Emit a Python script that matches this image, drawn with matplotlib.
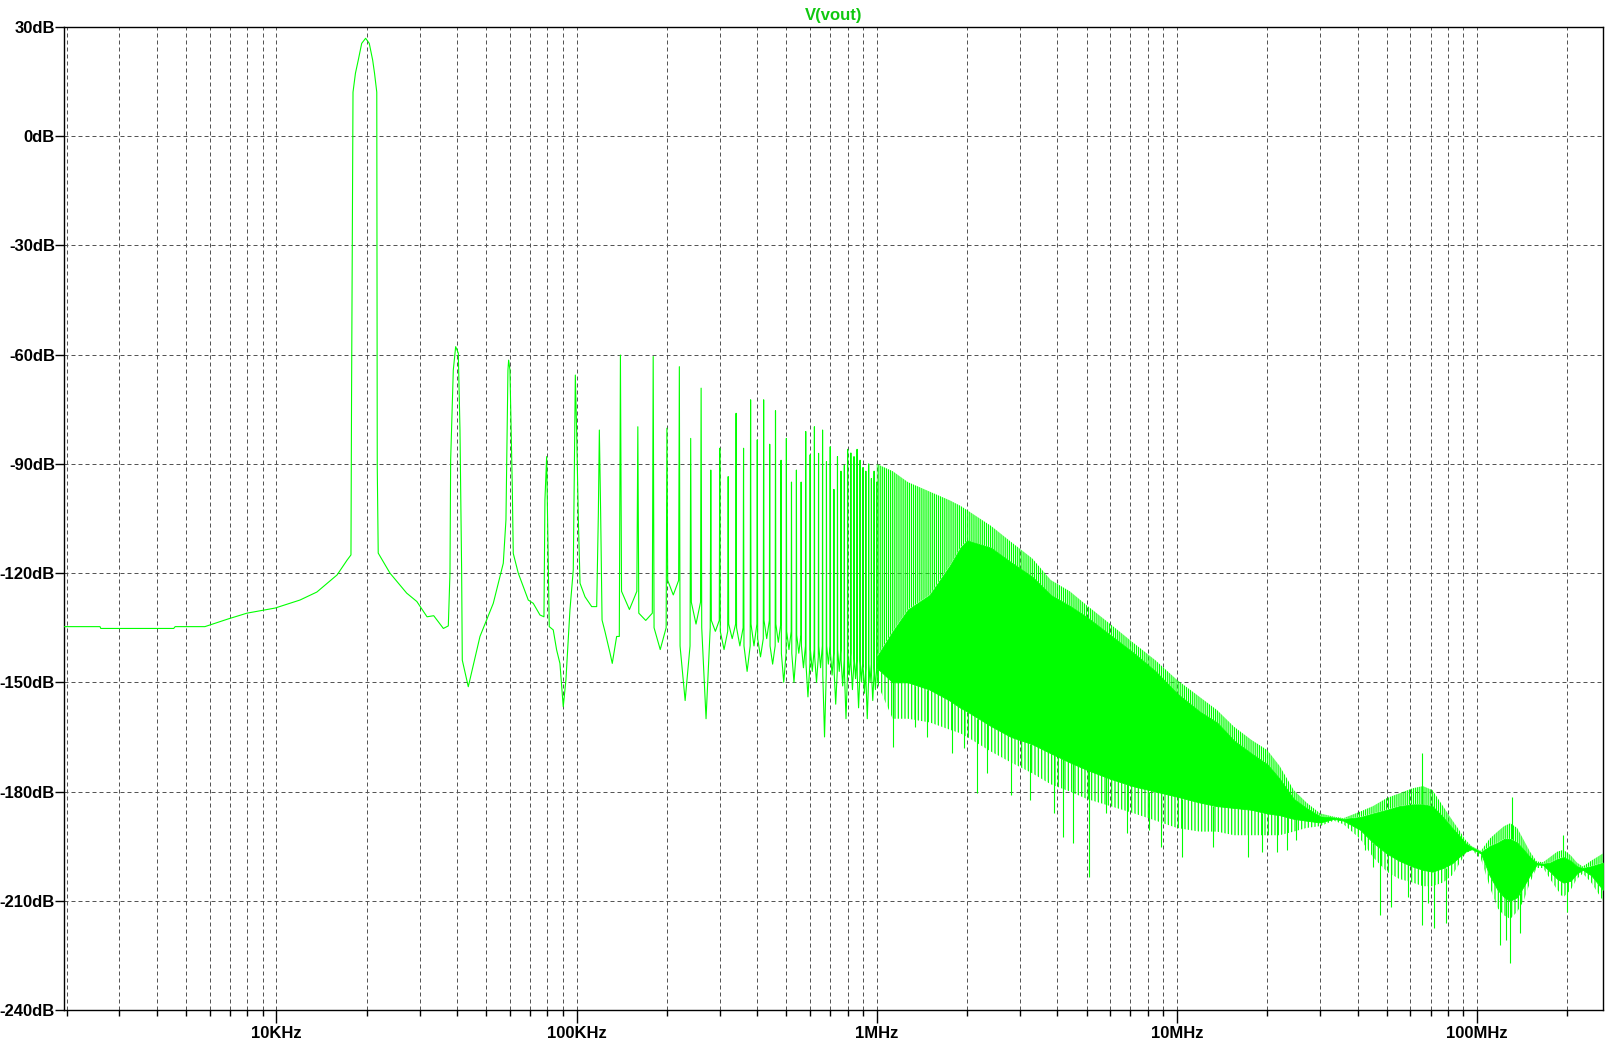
import matplotlib
matplotlib.use("Agg")
import matplotlib.pyplot as plt
from matplotlib.ticker import FixedLocator, LogLocator, NullFormatter

GREEN = "#00ff00"

# low-frequency part of the trace (Hz, dB), read point by point
lf_freq = [1961, 2585, 2600, 4550, 4600, 5780, 6900, 7980, 9900, 11980, 13640,
           15930, 17210, 17720, 17800, 18000, 18340, 18740, 19240, 19830, 20390,
           20930, 21230, 21600, 21680, 21840, 23900, 27170, 29370, 31760, 33430,
           36000, 37390, 37870, 38070, 38850, 39560, 40370, 40890, 41410, 41620,
           43580, 47670, 52790, 57000, 58180, 59080, 59390, 59990, 61070, 61540,
           63940, 69050, 71740, 75520, 77870, 78460, 79490, 80100, 81100, 83620,
           85820, 88020, 90300, 92170, 95060, 97520, 98560, 99070, 100100, 101400,
           102700, 106700, 112300, 116700, 118200, 119100, 120300, 121600, 124400,
           129300, 131500, 136000]
lf_db = [-134.7, -134.7, -135.2, -135.2, -134.7, -134.7, -132.6, -131.0, -129.6,
         -127.4, -125.2, -120.5, -116.4, -115.0, -71.6, 12.1, 17.3, 20.9, 25.5,
         26.9, 25.5, 20.9, 17.3, 12.1, -90.8, -114.5, -120.0, -125.5, -127.8,
         -132.0, -131.7, -135.2, -134.5, -120.0, -88.9, -64.2, -57.8, -59.6, -80.7,
         -119.1, -143.9, -151.2, -137.4, -128.3, -117.3, -105.4, -64.2, -61.5,
         -64.2, -96.2, -114.6, -120.0, -127.4, -128.3, -131.5, -132.0, -99.9,
         -88.0, -105.4, -134.7, -135.6, -141.1, -144.8, -156.7, -149.3, -130.1,
         -119.1, -82.5, -65.6, -81.6, -105.4, -122.8, -126.5, -129.2, -129.2,
         -103.6, -80.7, -103.6, -132.9, -136.1, -142.0, -144.8, -137.4]

# harmonics of the 20 kHz fundamental, 140 kHz .. 1 MHz
f0 = 20e3
harm_n = list(range(7, 51))
harm_peak_db = [-60.1, -79.8, -60.5, -80.2, -63.3, -83.0, -69.2, -91.7, -85.7, -93.5,
                -76.1, -85.7, -72.4, -83.4, -72.4, -84.6, -75.4, -89.0, -83.0, -95.0,
                -91.7, -95.0, -81.1, -87.5, -79.8, -87.1, -80.7, -89.4, -85.3, -97.0,
                -88.0, -92.0, -90.3, -86.0, -87.0, -88.0, -86.0, -89.0, -91.0, -92.0,
                -90.0, -94.0, -92.0, -95.0]
# level at the foot of each spike, and the lowest point before the next one
harm_base_db = [-125, -131, -135, -122, -140, -128, -135, -133, -136, -134,
                -135, -140, -134, -138, -133, -140, -134, -142, -136, -142,
                -137, -140, -145, -141, -143, -140, -148, -140, -142, -147,
                -141, -144, -148, -142, -145, -143, -148, -144, -146, -150,
                -145, -148, -146, -145]
harm_dip_db = [-130, -133, -141, -126, -155, -134, -160, -136, -141, -138,
               -140, -147, -140, -143, -138, -145, -139, -150, -141, -150,
               -142, -146, -154, -147, -150, -146, -165, -145, -148, -156,
               -147, -151, -160, -148, -152, -149, -157, -150, -153, -160,
               -150, -155, -152, -150]

# dense part above 1 MHz: envelopes of the spike forest (MHz, dB)
band_mhz = [1.0, 1.13, 1.27, 1.5, 1.75, 1.9, 2.0, 2.4, 2.8, 3.3, 3.8, 4.4, 5.0,
            6.0, 7.2, 8.5, 10, 11.9, 13.6, 15.5, 17.7, 20, 22, 24.5, 27, 30,
            33.3, 35.9, 40.8, 45, 50, 55, 61, 66, 71, 77, 82.6, 87, 91.5, 96,
            103, 110, 117, 123, 129, 136, 143, 150, 158, 166, 175, 185, 194,
            205, 215, 225, 240, 262.6]
band_top_db = [-90, -92, -95, -97.6, -100, -101.5, -102.7, -107, -111.4, -116,
               -121.9, -125, -128.8, -134, -139.3, -144, -149.3, -154, -157.6,
               -162.2, -165.8, -168.6, -173, -179.6, -183, -186, -186.9, -187.3,
               -185.5, -184, -181.8, -180.5, -179.1, -178.5, -179.6, -184, -187.8,
               -190.5, -193.3, -195, -196.3, -193, -191, -189.5, -188.7, -190,
               -193.3, -196.5, -199.2, -199.4, -198, -196.5, -196, -197.5, -199.5,
               -200.6, -199, -197]
core_top_db = [-143, -136, -130, -126, -118, -113, -111, -113, -117, -121, -126,
               -129, -132, -137, -142, -147, -153, -158, -161, -166, -169.5,
               -172.5, -176.5, -182, -184.5, -186.8, -187.1, -187.5, -187, -186,
               -185, -184, -183.5, -183.5, -184, -187, -190, -192, -194.2, -195.3,
               -196.6, -195, -194, -193, -193, -194, -196, -198, -199.6, -199.8,
               -199.5, -198.5, -198, -199, -200.5, -201, -200.5, -199.5]
core_bot_db = [-146, -150, -150, -152, -155, -157, -158, -162, -165, -167, -169.5,
               -172, -174, -176.5, -178.6, -180, -181.4, -183, -184, -184.5, -185,
               -186, -186.5, -187.5, -188, -188.5, -187.5, -188, -190.5, -194,
               -197, -199, -200.6, -201.5, -202, -201, -199.7, -198, -196.5,
               -195.8, -197, -203, -207, -209, -210, -209, -206, -203, -200,
               -200.2, -202, -204, -205, -204.5, -202.5, -201.5, -203, -207]
band_low_db = [-150, -160, -160, -161, -163, -164, -165, -169, -172, -175, -178,
               -180, -182, -184, -186, -188, -190, -191, -191, -192, -192, -192,
               -192, -191, -190, -189.5, -188, -189, -193, -198, -202, -204, -205,
               -206, -206, -205, -203, -200, -197, -196, -198.5, -206, -212, -214,
               -215, -213, -210, -205, -201, -201, -204, -207, -209, -207, -204,
               -202.5, -205, -210]

# isolated spikes sticking out of the band (MHz, from dB, to dB)
spike_mhz = [1.13, 1.34, 1.47, 1.78, 1.96, 2.16, 2.33, 2.81, 3.24, 3.89, 4.18,
             4.49, 5.08, 5.8, 6.8, 8.1, 8.88, 10.4, 13.2, 17.2, 19.2, 21.5, 23.3,
             25.0, 42.3, 45.0, 47.6, 51.6, 58.9, 65.4, 68.5, 71.8, 79.0, 119, 125,
             129, 139, 191, 199, 65.6, 131, 194]
spike_from_db = [-150, -151, -152, -154, -157, -160, -161, -165, -167, -170, -171,
                 -172, -174, -176, -178, -180, -180, -182, -184, -185, -186, -186,
                 -187, -187, -191, -194, -195, -197, -200, -201, -201, -202, -201,
                 -207, -209, -210, -208, -205, -205, -183.5, -193, -198]
spike_to_db = [-167.7, -162.2, -164.9, -169.5, -168.1, -180.5, -175, -181, -182.3,
               -186, -192.4, -194.2, -203.4, -186, -191.5, -190.5, -195.1, -197.9,
               -195.1, -197.9, -196.5, -196.5, -196, -193.3, -196, -200.6, -213.9,
               -211.6, -208.9, -216.6, -210.7, -217.6, -216.2, -222.1, -220.8,
               -227.2, -218.9, -208.4, -213, -169.5, -181.4, -191.9]

x_major = [1e4, 1e5, 1e6, 1e7, 1e8]
x_labels = ["10KHz", "100KHz", "1MHz", "10MHz", "100MHz"]
y_ticks = list(range(-240, 31, 30))

plt.rcParams["font.family"] = ["Liberation Sans", "DejaVu Sans"]
plt.rcParams["hatch.linewidth"] = 0.9
plt.rcParams["hatch.color"] = GREEN

fig = plt.figure(figsize=(16.05, 10.42), dpi=100)
ax = fig.add_axes([64 / 1605, 32 / 1042, 1539 / 1605, 983 / 1042])
ax.set_xscale("log")

# trace up to 1 MHz: narrow spikes standing on a shallow floor
w = 0.06 * f0
hx, hy = [], []
prev = lf_db[-1]
for n, pk, base, dip in zip(harm_n, harm_peak_db, harm_base_db, harm_dip_db):
    f = n * f0
    hx += [f - w, f, f + w, f + f0 / 2]
    hy += [prev, pk, base, dip]
    prev = base
ax.plot(lf_freq + hx, lf_db + hy, color=GREEN, lw=0.8, zorder=3)

# dense region
band_hz = [m * 1e6 for m in band_mhz]
ax.fill_between(band_hz, band_top_db, core_top_db, facecolor="none",
                edgecolor=GREEN, hatch="||||||||", linewidth=0, zorder=3)
ax.fill_between(band_hz, core_top_db, core_bot_db, color=GREEN, linewidth=0.6,
                zorder=3)
ax.fill_between(band_hz, core_bot_db, band_low_db, facecolor="none",
                edgecolor=GREEN, hatch="|||||", linewidth=0, zorder=3)
ax.vlines([m * 1e6 for m in spike_mhz], spike_from_db, spike_to_db,
          color=GREEN, lw=0.8, zorder=3)

ax.set_xlim(1961, 2.627e8)
ax.set_ylim(-240, 30)

ax.xaxis.set_major_locator(FixedLocator(x_major))
ax.set_xticklabels(x_labels)
ax.xaxis.set_minor_locator(LogLocator(base=10, subs=range(2, 10), numticks=20))
ax.xaxis.set_minor_formatter(NullFormatter())
ax.set_yticks(y_ticks)
ax.set_yticklabels([f"{v}dB" for v in y_ticks])

ax.tick_params(axis="x", which="major", length=9, width=1, pad=2.5,
               labelsize=12)
ax.tick_params(axis="x", which="minor", length=4, width=1)
ax.tick_params(axis="y", which="major", length=6.5, width=1, pad=0,
               labelsize=12)
for lab in ax.get_xticklabels() + ax.get_yticklabels():
    lab.set_fontweight("bold")

ax.grid(True, which="both", axis="x", color="#555555", lw=0.72,
        linestyle=(0, (4, 3)))
ax.grid(True, which="major", axis="y", color="#555555", lw=0.72,
        linestyle=(0, (4, 3)))
ax.set_axisbelow(True)
for sp in ax.spines.values():
    sp.set_linewidth(1.0)

ax.set_title("V(vout)", color="#10c810", fontsize=12, fontweight="bold", pad=5)

fig.savefig("out.png", dpi=100)
